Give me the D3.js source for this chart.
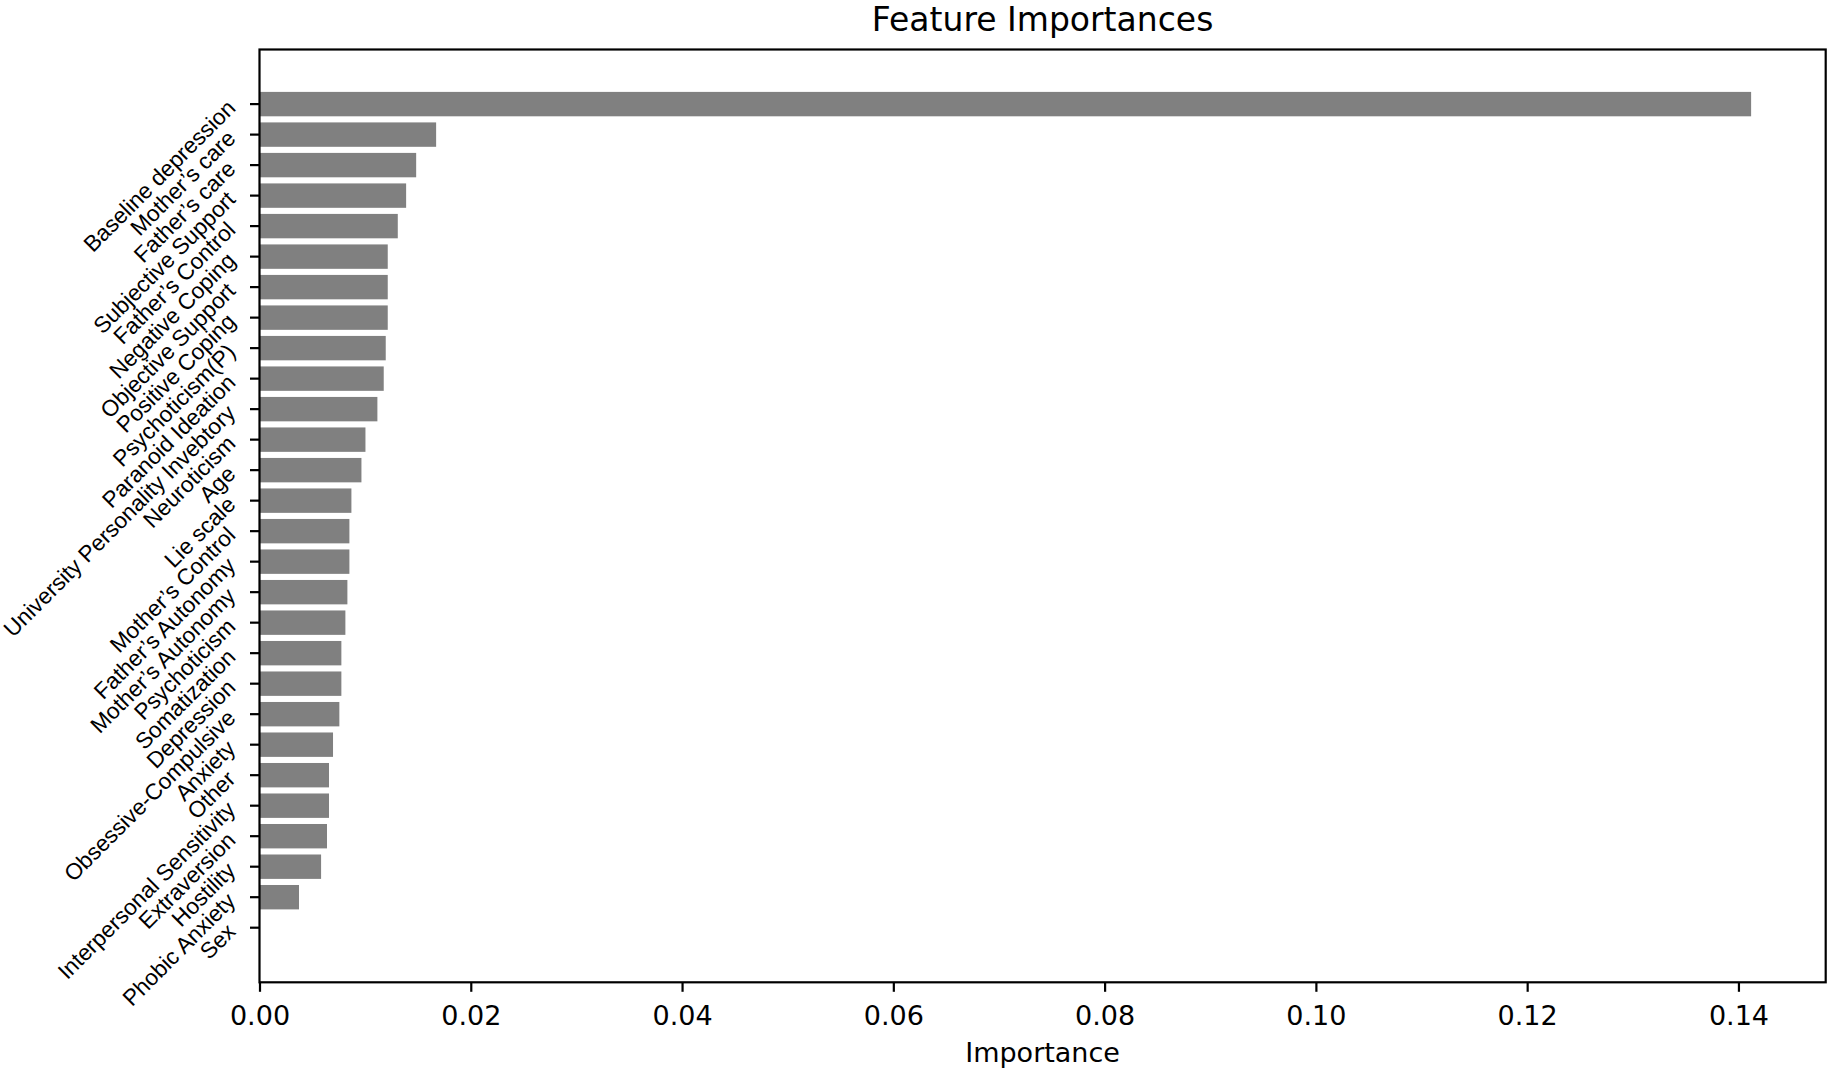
<!DOCTYPE html>
<html>
<head>
<meta charset="utf-8">
<script src="https://cdn.jsdelivr.net/npm/d3@7"></script>
<style>
  html, body { margin: 0; padding: 0; background: #ffffff; }
  svg { display: block; }
</style>
</head>
<body>
<script>
// ---- data ----
const features = [
  "Baseline depression", "Mother\u2019s care", "Father\u2019s care", "Subjective Support",
  "Father\u2019s Control", "Negative Coping", "Objective Support", "Positive Coping",
  "Psychoticism(P)", "Paranoid Ideation", "University Personality Invebtory", "Neuroticism",
  "Age", "Lie scale", "Mother\u2019s Control", "Father\u2019s Autonomy",
  "Mother\u2019s Autonomy", "Psychoticism", "Somatization", "Depression",
  "Obsessive-Compulsive", "Anxiety", "Other", "Interpersonal Sensitivity",
  "Extraversion", "Hostility", "Phobic Anxiety", "Sex"
];
const importances = [
  0.1412, 0.01672, 0.01483, 0.01388,
  0.01309, 0.01214, 0.01214, 0.01214,
  0.01195, 0.01176, 0.01116, 0.01003,
  0.00965, 0.00870, 0.00851, 0.00851,
  0.00832, 0.00813, 0.00775, 0.00775,
  0.00756, 0.00696, 0.00658, 0.00658,
  0.00639, 0.00583, 0.00374, 0.0
];
const xTicks = [0, 0.02, 0.04, 0.06, 0.08, 0.10, 0.12, 0.14];
const titleText = "Feature Importances";
const xLabelText = "Importance";

// ---- layout ----
const W = 1835, H = 1075;
const pLeft = 259.5, pRight = 1825.7, pTop = 49.5, pBottom = 982.3;

const svg = d3.select("body").append("svg")
  .attr("width", W).attr("height", H)
  .attr("viewBox", `0 0 ${W} ${H}`);

const maxVal = d3.max(importances);
const x = d3.scaleLinear().domain([0, maxVal * 1.05]).range([pLeft, pRight]);
const y = d3.scaleBand()
  .domain(features)
  .range([pTop, pBottom])
  .paddingInner(0.2)
  .paddingOuter(1.39);

const data = features.map((f, i) => ({ name: f, value: importances[i] }));

// bars
svg.append("g").selectAll("rect")
  .data(data.filter(d => d.value > 0))
  .join("rect")
  .attr("x", x(0))
  .attr("y", d => y(d.name))
  .attr("width", d => x(d.value) - x(0))
  .attr("height", y.bandwidth())
  .attr("fill", "#808080");

// x axis
const xAxis = d3.axisBottom(x)
  .tickValues(xTicks)
  .tickFormat(d3.format(".2f"))
  .tickSize(9.5)
  .tickPadding(9.5)
  .tickSizeOuter(0);
const gx = svg.append("g")
  .attr("transform", `translate(0,${pBottom})`)
  .call(xAxis);
gx.select(".domain").remove();
gx.selectAll(".tick line").attr("stroke", "#000").attr("stroke-width", 2.2);
gx.selectAll(".tick text")
  .attr("font-family", "'DejaVu Sans', sans-serif")
  .attr("font-size", 27)
  .attr("fill", "#000")
  .attr("dy", null)
  .attr("y", 1025 - pBottom);

// y axis
const yAxis = d3.axisLeft(y)
  .tickSize(9.5)
  .tickPadding(9.5)
  .tickSizeOuter(0);
const gy = svg.append("g")
  .attr("transform", `translate(${pLeft},0)`)
  .call(yAxis);
gy.select(".domain").remove();
gy.selectAll(".tick line").attr("stroke", "#000").attr("stroke-width", 2.2);
gy.selectAll(".tick text")
  .attr("font-family", "'Liberation Sans', Arial, sans-serif")
  .attr("font-size", 22.6)
  .attr("fill", "#000")
  .attr("x", null)
  .attr("dy", null)
  .attr("text-anchor", "end")
  .attr("dominant-baseline", "central")
  .attr("transform", "translate(-28,0) rotate(-45)");

// frame (spines)
svg.append("rect")
  .attr("x", pLeft).attr("y", pTop)
  .attr("width", pRight - pLeft).attr("height", pBottom - pTop)
  .attr("fill", "none")
  .attr("stroke", "#000")
  .attr("stroke-width", 2.2);

// title
svg.append("text")
  .attr("x", (pLeft + pRight) / 2)
  .attr("y", 31)
  .attr("text-anchor", "middle")
  .attr("font-family", "'DejaVu Sans', sans-serif")
  .attr("font-size", 33)
  .attr("fill", "#000")
  .text(titleText);

// x label
svg.append("text")
  .attr("x", (pLeft + pRight) / 2)
  .attr("y", 1062)
  .attr("text-anchor", "middle")
  .attr("font-family", "'DejaVu Sans', sans-serif")
  .attr("font-size", 27)
  .attr("fill", "#000")
  .text(xLabelText);
</script>
</body>
</html>
